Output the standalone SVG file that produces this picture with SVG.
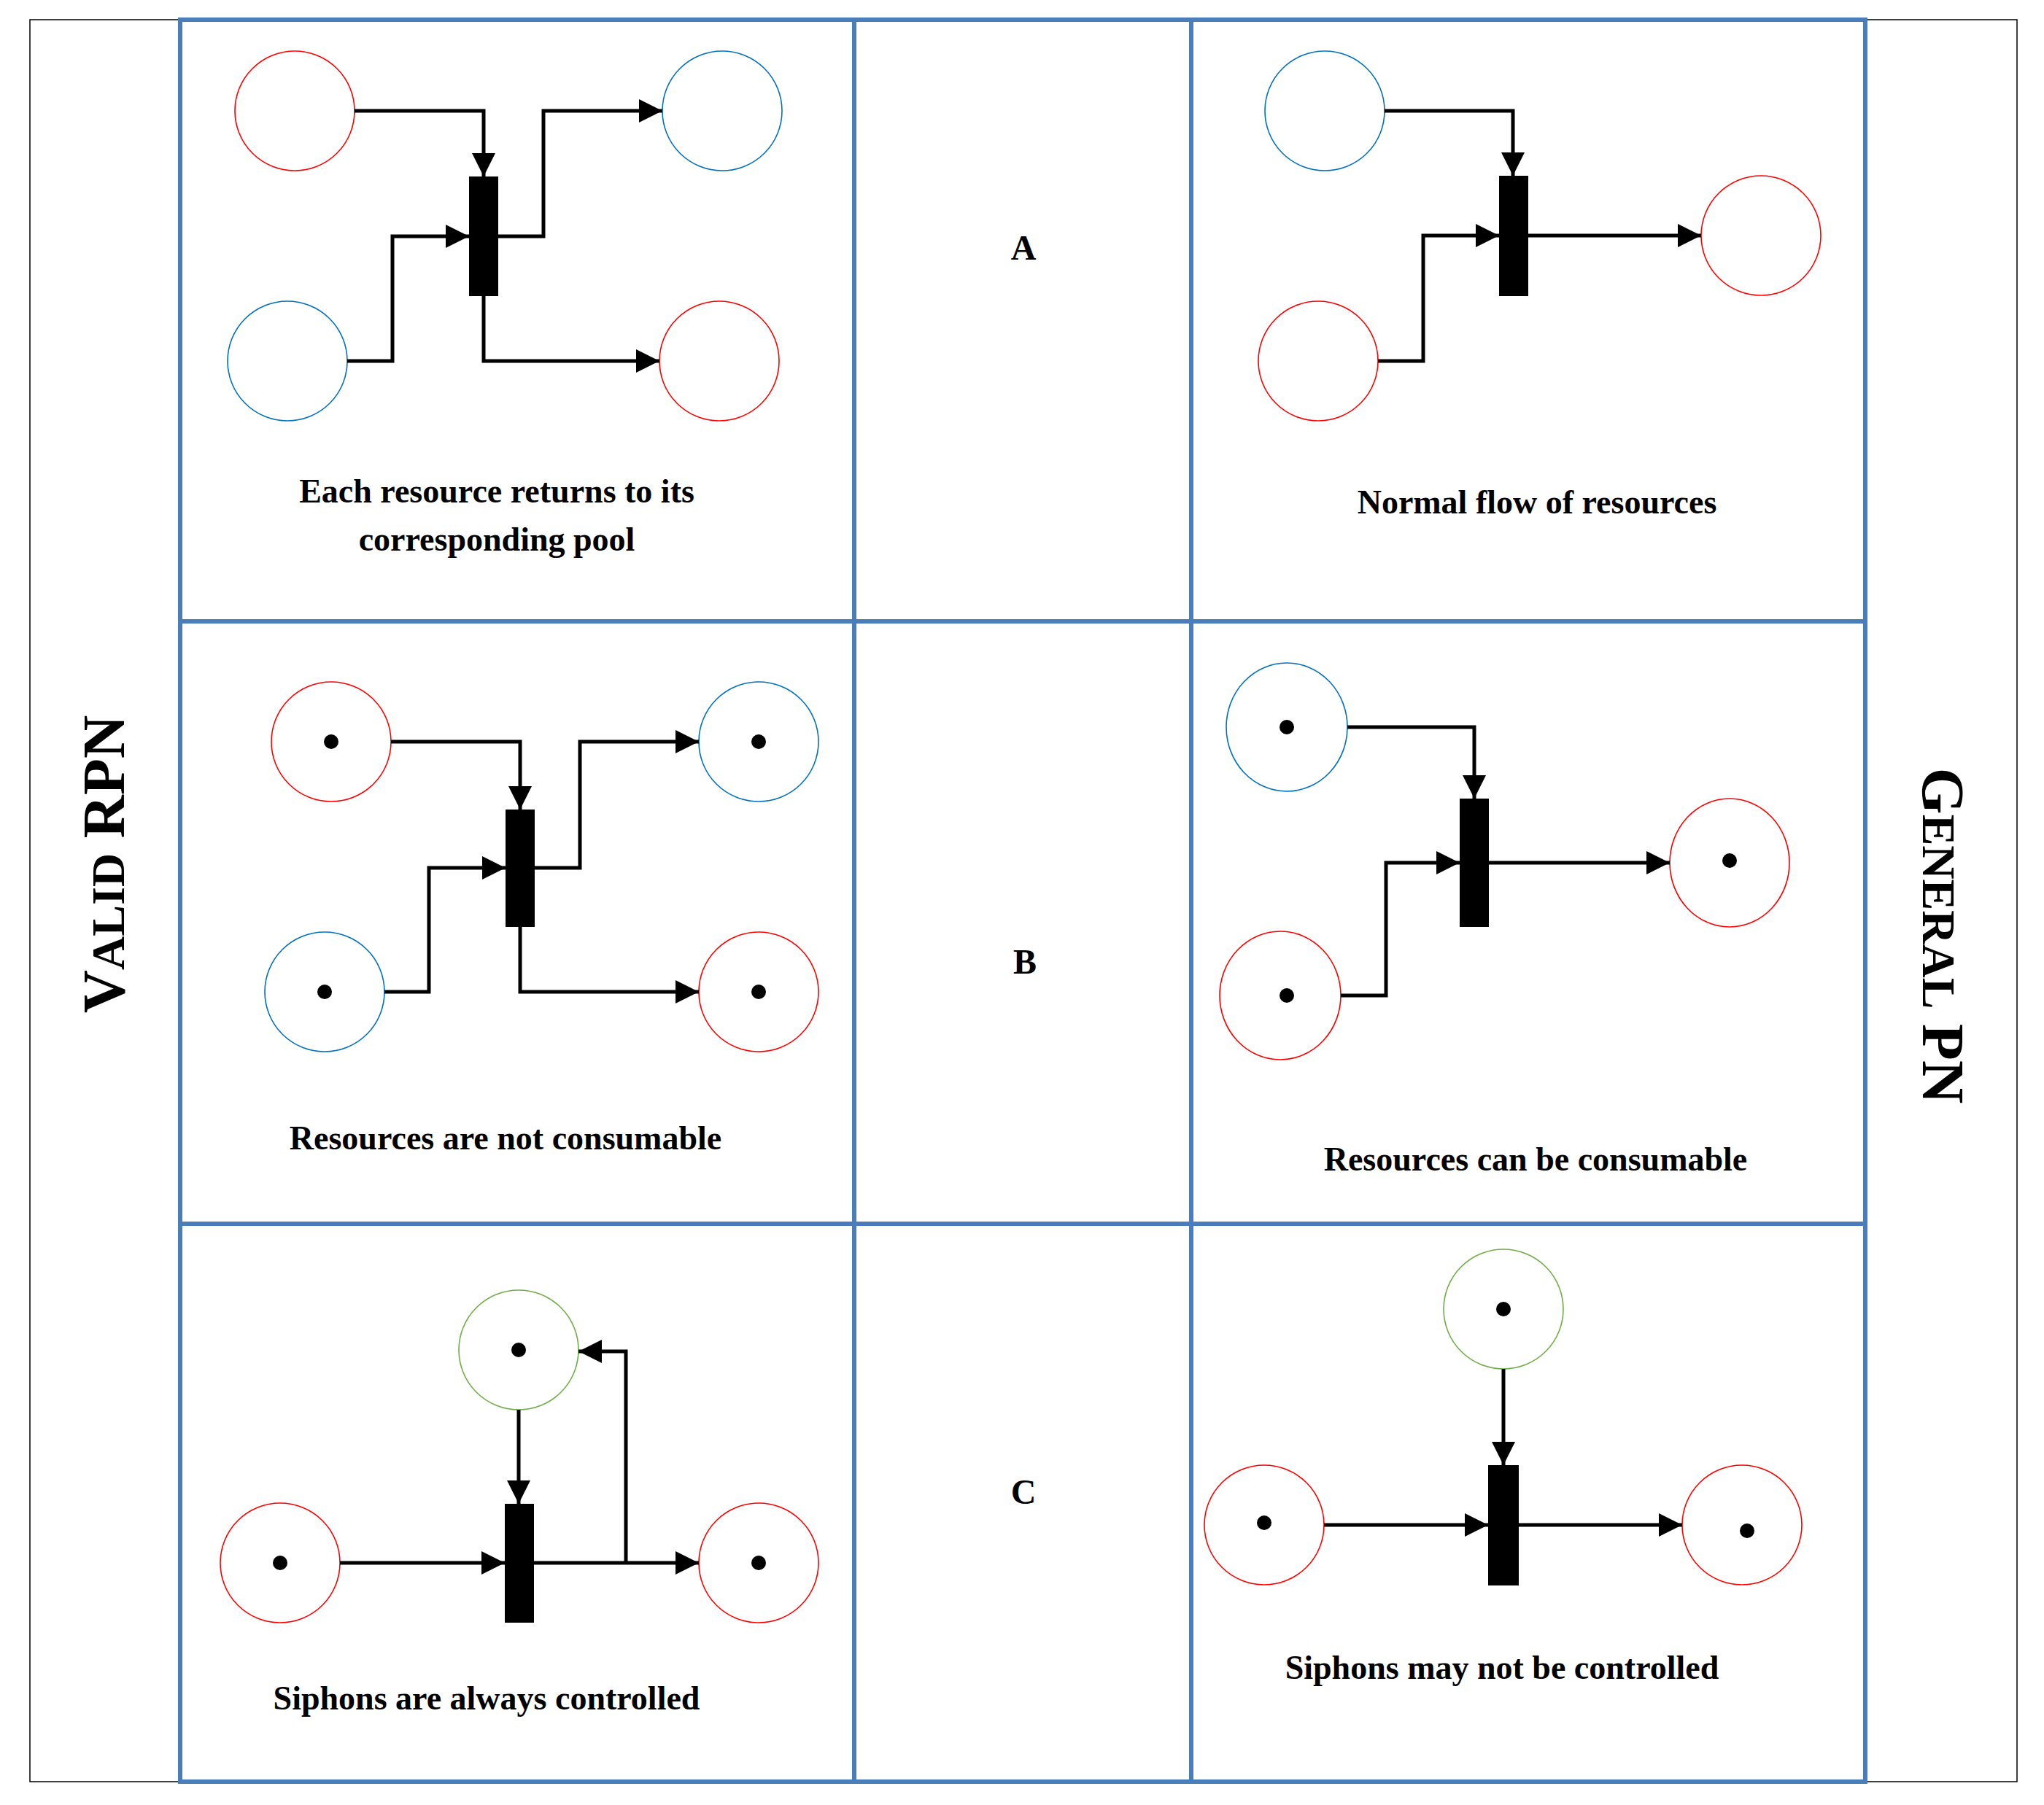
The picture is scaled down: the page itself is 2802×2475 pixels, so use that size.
<svg xmlns="http://www.w3.org/2000/svg" width="2802" height="2475" viewBox="0 0 2802 2475">
<style>
.r{fill:none;stroke:#FF0000;stroke-width:1.6}
.b{fill:none;stroke:#0070C0;stroke-width:1.6}
.g{fill:none;stroke:#70AD47;stroke-width:1.6}
.t{fill:#000}
.k{fill:#000}
.e{fill:none;stroke:#000;stroke-width:5;marker-end:url(#ah)}
.n{fill:none;stroke:#000;stroke-width:5}
.grid{fill:none;stroke:#4A7EBB;stroke-width:6}
.lbl{font-family:"Liberation Serif",serif;font-weight:bold;font-size:46px;text-anchor:middle}
.big{font-family:"Liberation Serif",serif;font-weight:bold;font-size:48px;text-anchor:middle}
.side{font-family:"Liberation Serif",serif;font-weight:bold;font-size:82px;text-anchor:middle}
</style>
<defs>
<marker id="ah" viewBox="0 0 10 10" refX="10" refY="5" markerUnits="userSpaceOnUse" markerWidth="34" markerHeight="32" orient="auto"><path d="M0,0L10,5L0,10z" fill="#000"/></marker>
</defs>
<rect x="41" y="27" width="2724" height="2416" fill="none" stroke="#000" stroke-width="1.5"/>
<g id="grid">
<rect class="grid" x="247" y="27" width="2310" height="2416"/>
<line class="grid" x1="1171" y1="27" x2="1171" y2="2443"/>
<line class="grid" x1="1633" y1="27" x2="1633" y2="2443"/>
<line class="grid" x1="247" y1="852" x2="2557" y2="852"/>
<line class="grid" x1="247" y1="1678" x2="2557" y2="1678"/>
</g>
<g id="labels">
<text class="side" transform="translate(170,1185) rotate(-90)">V<tspan font-size="64">ALID</tspan> RPN</text>
<text class="side" transform="translate(2636,1283) rotate(90)">G<tspan font-size="64">ENERAL</tspan> PN</text>
<text class="big" x="1403" y="356">A</text>
<text class="big" x="1405" y="1335">B</text>
<text class="big" x="1403" y="2062">C</text>
<text class="lbl" x="681" y="689">Each resource returns to its</text>
<text class="lbl" x="681" y="755">corresponding pool</text>
<text class="lbl" x="2107" y="704">Normal flow of resources</text>
<text class="lbl" x="693" y="1576">Resources are not consumable</text>
<text class="lbl" x="2105" y="1605">Resources can be consumable</text>
<text class="lbl" x="667" y="2344">Siphons are  always controlled</text>
<text class="lbl" x="2059" y="2302">Siphons may not be controlled</text>
</g>
<g id="nodes">
<!-- A left -->
<g id="a1"><circle class="r" cx="404" cy="152" r="82"/></g>
<g id="a2"><circle class="b" cx="990" cy="152" r="82"/></g>
<g id="a3"><circle class="b" cx="394" cy="495" r="82"/></g>
<g id="a4"><circle class="r" cx="986" cy="495" r="82"/></g>
<g id="at1"><rect class="t" x="643" y="242" width="40" height="164"/></g>
<!-- A right -->
<g id="a5"><circle class="b" cx="1816" cy="152" r="82"/></g>
<g id="a6"><circle class="r" cx="1807" cy="495" r="82"/></g>
<g id="a7"><circle class="r" cx="2414" cy="323" r="82"/></g>
<g id="at2"><rect class="t" x="2055" y="241" width="40" height="165"/></g>
<!-- B left -->
<g id="b1"><circle class="r" cx="454" cy="1017" r="82"/><circle class="k" cx="454" cy="1017" r="10"/></g>
<g id="b2"><circle class="b" cx="1040" cy="1017" r="82"/><circle class="k" cx="1040" cy="1017" r="10"/></g>
<g id="b3"><circle class="b" cx="445" cy="1360" r="82"/><circle class="k" cx="445" cy="1360" r="10"/></g>
<g id="b4"><circle class="r" cx="1040" cy="1360" r="82"/><circle class="k" cx="1040" cy="1360" r="10"/></g>
<g id="bt1"><rect class="t" x="693" y="1110" width="40" height="161"/></g>
<!-- B right -->
<g id="b5"><ellipse class="b" cx="1764" cy="997" rx="83" ry="88"/><circle class="k" cx="1764" cy="997" r="10"/></g>
<g id="b6"><ellipse class="r" cx="1755" cy="1365" rx="83" ry="88"/><circle class="k" cx="1764" cy="1365" r="10"/></g>
<g id="b7"><ellipse class="r" cx="2371" cy="1183" rx="82" ry="88"/><circle class="k" cx="2371" cy="1180" r="10"/></g>
<g id="bt2"><rect class="t" x="2001" y="1095" width="40" height="176"/></g>
<!-- C left -->
<g id="c1"><circle class="g" cx="711" cy="1851" r="82"/><circle class="k" cx="711" cy="1851" r="10"/></g>
<g id="c2"><circle class="r" cx="384" cy="2143" r="82"/><circle class="k" cx="384" cy="2143" r="10"/></g>
<g id="c3"><circle class="r" cx="1040" cy="2143" r="82"/><circle class="k" cx="1040" cy="2143" r="10"/></g>
<g id="ct1"><rect class="t" x="692" y="2062" width="40" height="163"/></g>
<!-- C right -->
<g id="c4"><circle class="g" cx="2061" cy="1795" r="82"/><circle class="k" cx="2061" cy="1795" r="10"/></g>
<g id="c5"><circle class="r" cx="1733" cy="2091" r="82"/><circle class="k" cx="1733" cy="2088" r="10"/></g>
<g id="c6"><circle class="r" cx="2388" cy="2091" r="82"/><circle class="k" cx="2395" cy="2099" r="10"/></g>
<g id="ct2"><rect class="t" x="2040" y="2009" width="42" height="165"/></g>
</g>
<g id="connectors">
<path class="e" d="M486,152H663V242"/>
<path class="e" d="M476,495H538V324H643"/>
<path class="e" d="M683,324H745V152H908"/>
<path class="e" d="M663,406V495H904"/>
<path class="e" d="M1898,152H2074V241"/>
<path class="e" d="M1889,495H1951V323H2055"/>
<path class="e" d="M2095,323H2332"/>
<path class="e" d="M536,1017H713V1110"/>
<path class="e" d="M527,1360H588V1190H693"/>
<path class="e" d="M733,1190H795V1017H958"/>
<path class="e" d="M713,1271V1360H958"/>
<path class="e" d="M1847,997H2021V1095"/>
<path class="e" d="M1838,1365H1900V1183H2001"/>
<path class="e" d="M2041,1183H2289"/>
<path class="e" d="M711,1933V2062"/>
<path class="e" d="M466,2143H692"/>
<path class="e" d="M732,2143H958"/>
<path class="e" d="M858,2143V1853H793"/>
<path class="e" d="M2061,1877V2009"/>
<path class="e" d="M1815,2091H2040"/>
<path class="e" d="M2082,2091H2306"/>
</g>
</svg>
